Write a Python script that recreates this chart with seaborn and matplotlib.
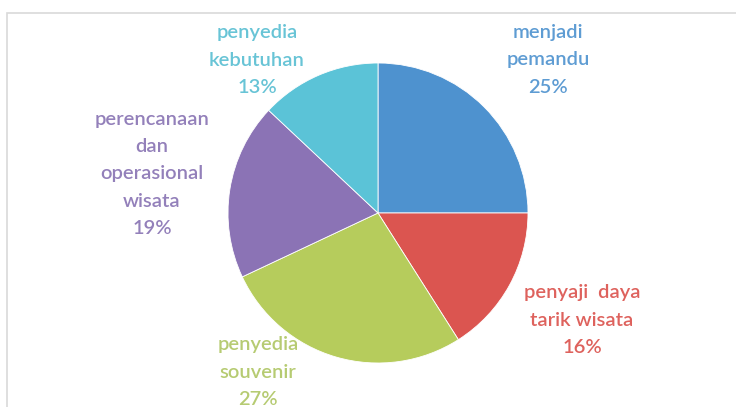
import matplotlib
matplotlib.use("Agg")
import matplotlib.pyplot as plt
import seaborn as sns
from matplotlib.patches import Rectangle

# --- dati ---
labels = ['menjadi\npemandu', 'penyaji  daya\ntarik wisata', 'penyedia\nsouvenir',
          'perencanaan\ndan\noperasional\nwisata', 'penyedia\nkebutuhan']
values = [25, 16, 27, 19, 13]
colors = ['#4E92CF', '#DB5550', '#B6CC5C', '#8B73B5', '#5BC3D7']
text_colors = ['#5E9CD3', '#DE625D', '#B6CB72', '#9380BA', '#68C4D6']

# posizioni delle etichette (pixel, origine in alto a sinistra)
label_pos = [(548, 60), (582, 320), (258, 372), (152, 174), (257, 60)]

sns.set_theme(style="white")
plt.rcParams['font.family'] = ['Lato', 'DejaVu Sans']

fig = plt.figure(figsize=(7.36, 4.07), dpi=100)
ax = fig.add_axes([0, 0, 1, 1])

# cornice del grafico
ax.add_patch(Rectangle((7, -10), 760, 407 - 13 + 10, fill=False,
                       edgecolor='#D9D9D9', linewidth=1.2))

ax.pie(values, colors=colors, startangle=90, counterclock=False,
       radius=150, center=(378, 407 - 213), frame=True,
       wedgeprops=dict(linewidth=0.6, edgecolor='white'))
ax.set_xlim(0, 736)
ax.set_ylim(0, 407)
ax.axis('off')

for lab, v, (x, y), c in zip(labels, values, label_pos, text_colors):
    ax.text(x, 407 - y, f'{lab}\n{v}%', color=c, fontsize=14.5,
            fontweight='semibold', ha='center', va='center', linespacing=1.72)

fig.savefig('out.png', dpi=100)
